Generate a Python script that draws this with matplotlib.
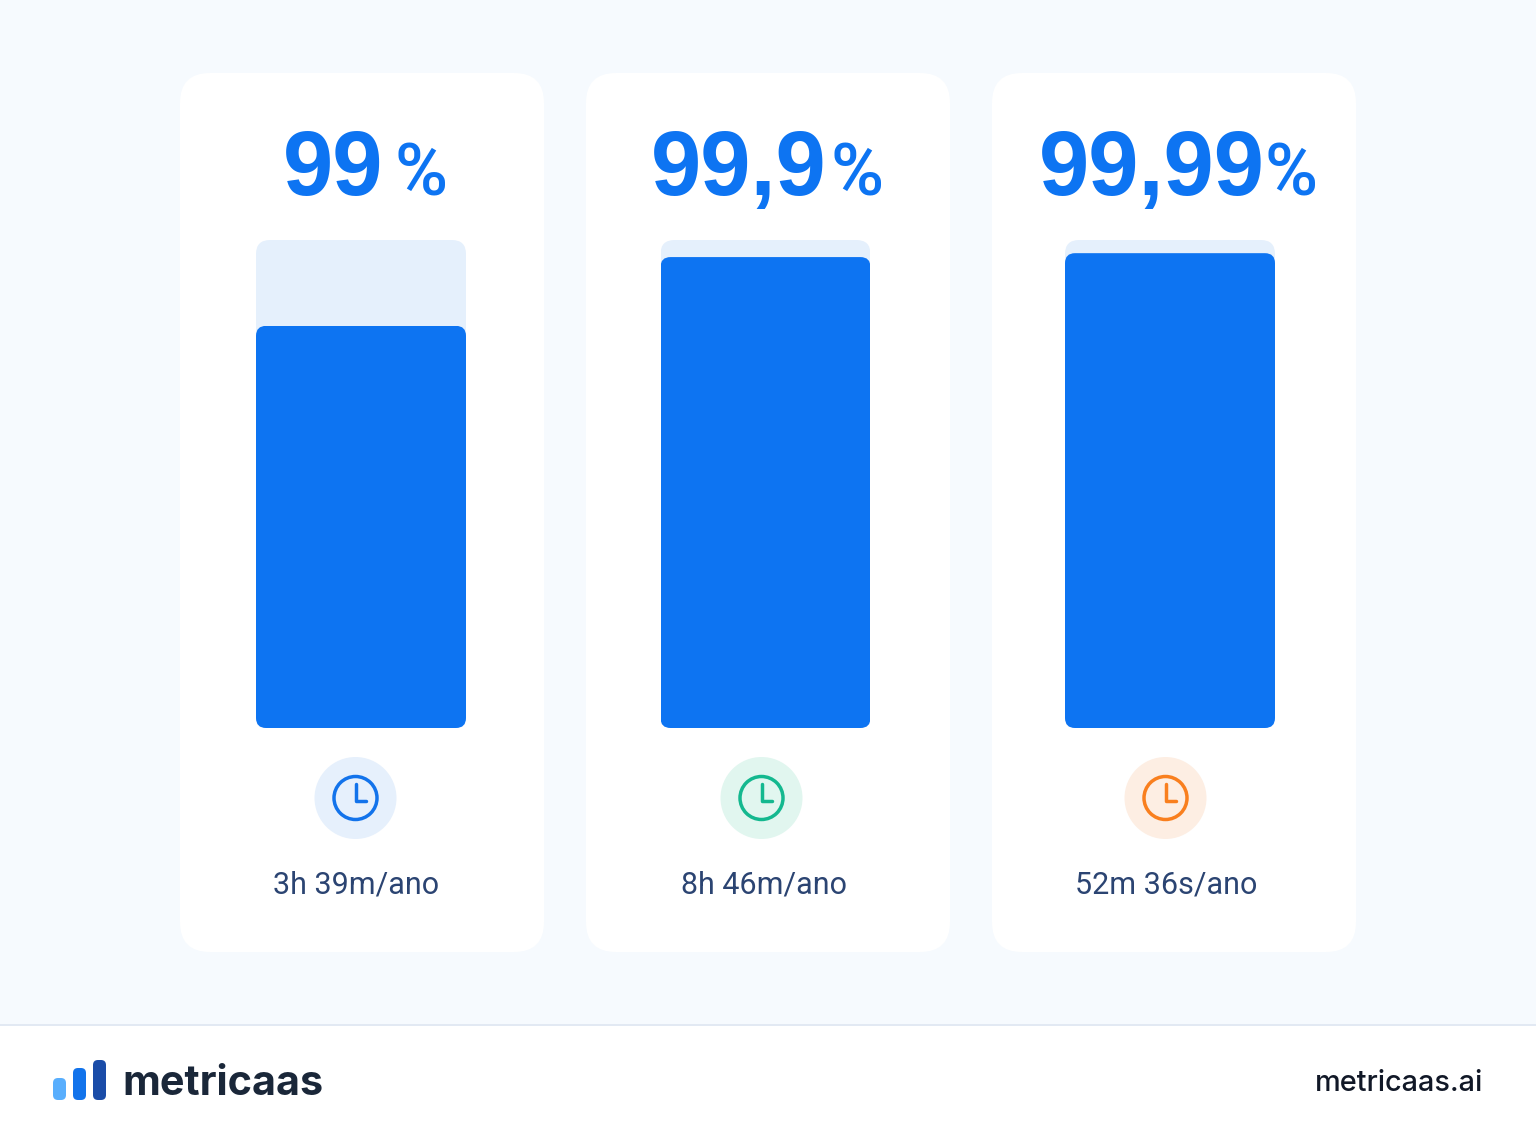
import matplotlib
matplotlib.use("Agg")
import matplotlib.pyplot as plt
from matplotlib.patches import FancyBboxPatch, Circle, Rectangle
import numpy as np

plt.rcParams['font.family'] = ['Inter', 'DejaVu Sans']

W, H = 1536, 1136

# ---- data ----
uptime_labels = ["99", "99,9", "99,99"]
fill_percent = [82.4, 96.5, 97.3]
downtime_labels = ["3h 39m/ano", "8h 46m/ano", "52m 36s/ano"]
icon_colors = ["#1273EB", "#14B88F", "#F97F1E"]
icon_bg_colors = ["#E6F0FC", "#E1F6EF", "#FDEEE3"]

# ---- layout (pixels) ----
card_left = [180, 586, 992]
card_w, card_top, card_bot = 364, 73, 952
bar_left = [256, 660.5, 1065]
bar_w, bar_top, bar_bot = 210, 240, 728
icon_x = [355.5, 761.5, 1165.5]
icon_y = 798
num_x = [283, 651, 1039]
pct_x = [395, 831, 1264]
label_x = [356, 764, 1166]

BLUE = "#0D74F2"
TRACK = "#E5F0FC"
BG = "#F6FAFE"

fig = plt.figure(figsize=(W / 100, H / 100), dpi=100, facecolor="white")
ax = fig.add_axes([0, 0, 1, 1])
ax.set_xlim(0, W)
ax.set_ylim(H, 0)
ax.axis("off")


def rrect(a, x0, y0, x1, y1, r, color, z=2, **kw):
    p = FancyBboxPatch((x0 + r, y0 + r), x1 - x0 - 2 * r, y1 - y0 - 2 * r,
                       boxstyle=f"round,pad={r},rounding_size={r}",
                       fc=color, ec="none", zorder=z, **kw)
    a.add_patch(p)
    return p


# background and footer
ax.add_patch(Rectangle((0, 0), W, 1025, fc=BG, ec="none", zorder=0))
ax.add_patch(Rectangle((0, 1024.2), W, 1.6, fc="#E2E9F3", ec="none", zorder=1))

for i in range(3):
    rrect(ax, card_left[i], card_top, card_left[i] + card_w, card_bot, 30, "#FFFFFF", z=1)

    # bar on its own value axis (0-100 = full track)
    bax = fig.add_axes([bar_left[i] / W, 1 - bar_bot / H, bar_w / W, (bar_bot - bar_top) / H])
    bax.set_xlim(0, 1)
    bax.set_ylim(0, 100)
    bax.axis("off")
    bax.patch.set_alpha(0)

    track_clip = rrect(ax, bar_left[i], bar_top, bar_left[i] + bar_w, bar_bot, 14, "none", z=0)
    track = bax.bar([0.5], [100], width=1, color=TRACK)[0]
    track.set_clip_path(track_clip)

    fill_top = bar_bot - (bar_bot - bar_top) * fill_percent[i] / 100
    fill_clip = rrect(ax, bar_left[i], fill_top, bar_left[i] + bar_w, bar_bot, 10, "none", z=0)
    fill = bax.bar([0.5], [fill_percent[i]], width=1, color=BLUE)[0]
    fill.set_clip_path(fill_clip)

    # headline
    ax.text(num_x[i], 195, uptime_labels[i], fontsize=65, fontweight="bold", family="Liberation Sans",
            color=BLUE, ha="left", va="baseline", zorder=3)
    ax.text(pct_x[i], 196, "%", fontsize=52, fontweight="medium", family="Roboto",
            color=BLUE, ha="left", va="baseline", zorder=3)

    # clock icon
    ax.add_patch(Circle((icon_x[i], icon_y), 41, fc=icon_bg_colors[i], ec="none", zorder=3))
    ax.add_patch(Circle((icon_x[i], icon_y), 21.5, fc="none", ec=icon_colors[i], lw=2.5, zorder=4))
    ax.plot([icon_x[i], icon_x[i], icon_x[i] + 10], [icon_y - 14, icon_y + 3, icon_y + 3],
            color=icon_colors[i], lw=2.5, solid_capstyle="round", solid_joinstyle="round", zorder=4)

    ax.text(label_x[i], 894, downtime_labels[i], fontsize=22, color="#2B4472", family="Roboto",
            ha="center", va="baseline", zorder=3)

# logo
for (x0, x1, top, c) in [(53, 66, 1078, "#58AEFD"), (73, 86, 1068, "#1273EB"), (93, 106, 1060, "#1A4CA8")]:
    rrect(ax, x0, top, x1, 1100, 5, c, z=3)
ax.text(122, 1095, "metricaas", fontsize=29.8, fontweight="bold", color="#1A2739",
        ha="left", va="baseline", zorder=3)
ax.text(1483, 1091, "metricaas.ai", fontsize=20.8, fontweight="medium", color="#111827",
        ha="right", va="baseline", zorder=3)

fig.savefig("out.png", dpi=100, facecolor="white")
